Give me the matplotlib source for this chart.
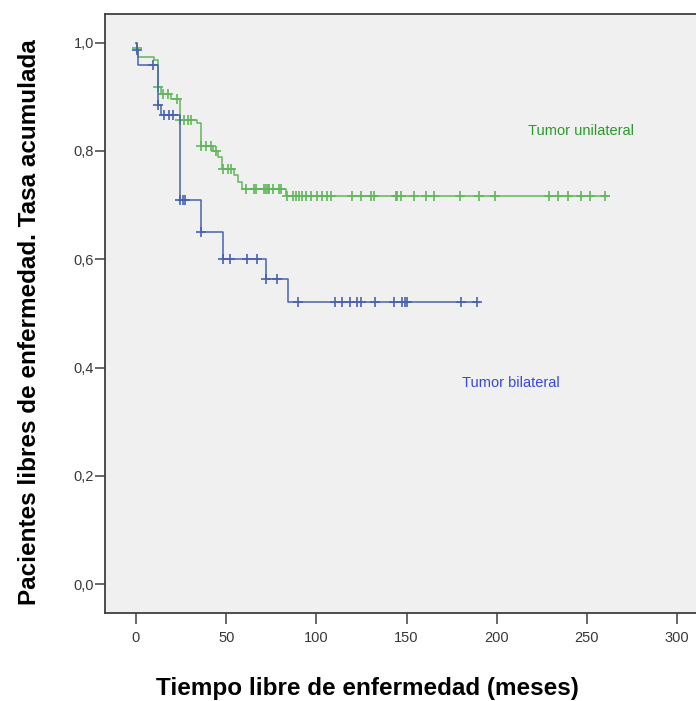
import numpy as np
import matplotlib
matplotlib.use('Agg')
import matplotlib.pyplot as plt

plt.rcParams['font.family'] = ['Liberation Sans', 'DejaVu Sans']

# Kaplan-Meier: tiempo libre de enfermedad (meses) por lateralidad del tumor
# escalones (tiempo, supervivencia tras el evento)
uni_t = [0, 0.3, 1, 10, 12.2, 13.8, 19.4, 24.5, 34, 36, 42.5, 45.7, 47.5, 54.4, 56.8, 59, 83]
uni_s = [1.0, 0.99, 0.974, 0.968, 0.918, 0.906, 0.896, 0.857, 0.851, 0.810, 0.800, 0.789,
         0.766, 0.755, 0.742, 0.730, 0.717]
uni_end = 262.5
uni_cens = [0.5, 12.2, 14.8, 17.5, 23, 24.5, 26.7, 28.6, 30.5, 36, 38.8, 41.5, 44.3, 48,
            50.8, 52.6, 61, 65.5, 66.4, 71, 72, 73, 73.8, 75.7, 79.3, 80.3, 84, 86.8, 88.6,
            90.4, 92.3, 94, 96.9, 100.6, 103.4, 106.1, 108, 120, 124.6, 130.1, 132, 144,
            144.9, 146.7, 154.1, 160.9, 165.2, 179.9, 190.1, 198.9, 228.8, 233.8, 239.8,
            246.9, 251.9, 260.3]

bil_t = [0, 0.5, 1, 12, 14, 24.4, 36, 48, 72, 84.5]
bil_s = [1.0, 0.986, 0.958, 0.884, 0.867, 0.709, 0.650, 0.600, 0.563, 0.521]
bil_end = 190
bil_cens = [0.5, 9.6, 12, 15.7, 18.4, 20.3, 24.4, 26, 27.3, 36, 48, 52, 61.5, 67, 72, 78,
            90, 110.2, 114.4, 118.5, 122.4, 125, 132.3, 143, 147.7, 149, 150, 180, 189]

x_ticks = [0, 50, 100, 150, 200, 250, 300]
y_ticks = [0.0, 0.2, 0.4, 0.6, 0.8, 1.0]

green = '#62b65a'
blue = '#4862b0'

fig = plt.figure(figsize=(6.96, 7.01), dpi=100)
ax = fig.add_axes([0.1513, 0.1251, 0.8487, 0.855])
ax.set_facecolor('#f0f0f0')


def km(ax, t, s, end, cens, color):
    tt = list(t) + [end]
    ss = list(s) + [s[-1]]
    ax.step(tt, ss, where='post', color=color, lw=1.1)
    idx = np.searchsorted(t, cens, side='right') - 1
    ax.plot(cens, np.array(s)[idx], '+', color=color, ms=7, mew=1.2)


km(ax, uni_t, uni_s, uni_end, uni_cens, green)
km(ax, bil_t, bil_s, bil_end, bil_cens, blue)

ax.text(217.3, 0.837, 'Tumor unilateral', color='#2a9a2a', fontsize=10.5, va='center')
ax.text(180.7, 0.372, 'Tumor bilateral', color='#3448e0', fontsize=10.5, va='center')

ax.set_xlim(-17, 310.5)
ax.set_ylim(-0.0535, 1.053)
ax.set_xticks(x_ticks)
ax.set_yticks(y_ticks)
ax.set_yticklabels([f'{v:.1f}'.replace('.', ',') for v in y_ticks])

for side in ['left', 'bottom', 'top']:
    ax.spines[side].set_color('#404040')
    ax.spines[side].set_linewidth(1.3)
ax.spines['right'].set_visible(False)

ax.tick_params(axis='both', direction='out', colors='#404040', labelcolor='#383838',
               labelsize=10.5, width=1.1)
ax.tick_params(axis='y', length=7, pad=1)
ax.tick_params(axis='x', length=8, pad=5)

fig.text(0.5273, 0.0185, 'Tiempo libre de enfermedad (meses)', ha='center', va='center',
         fontsize=17.5, fontweight='bold')
fig.text(0.043, 0.541, 'Pacientes libres de enfermedad. Tasa acumulada', ha='center',
         va='center', rotation=90, fontsize=17.5, fontweight='bold')

fig.savefig('out.png', dpi=100)
